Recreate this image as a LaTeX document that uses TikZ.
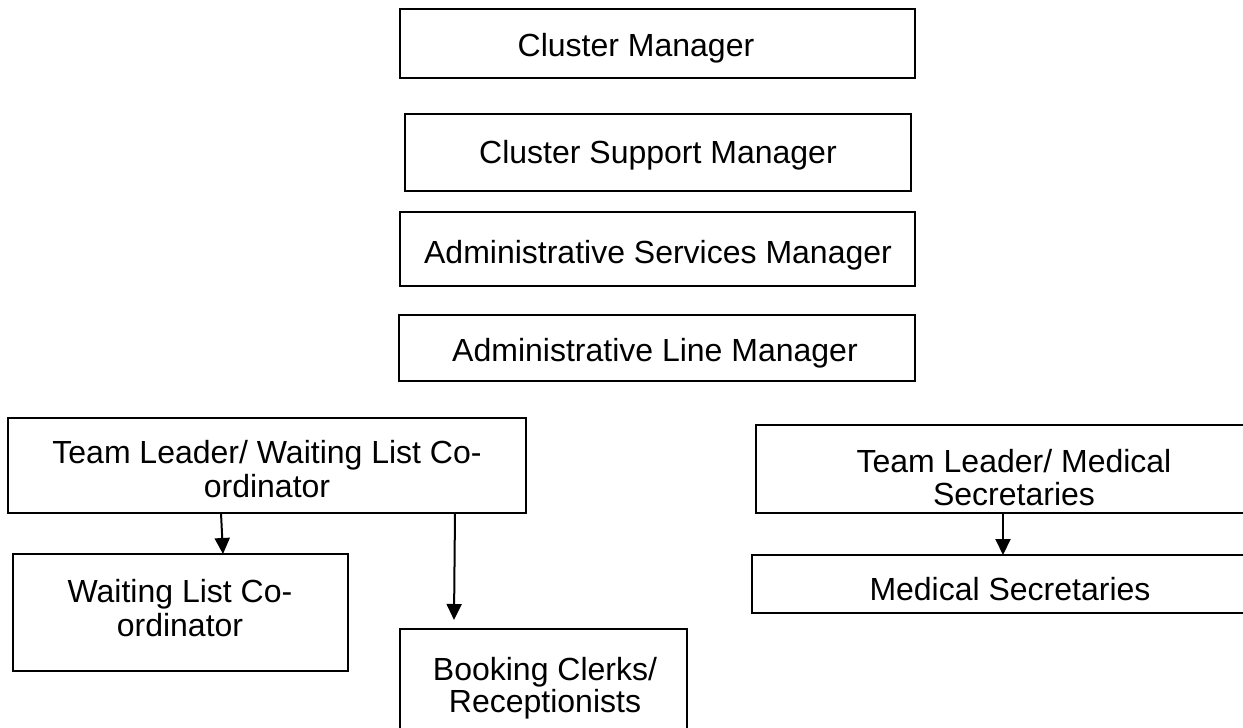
\documentclass[tikz,border=0pt]{standalone}
\usepackage{fontspec}
\setmainfont{Liberation Sans}
\usetikzlibrary{arrows.meta}
\begin{document}
\begin{tikzpicture}[x=1pt,y=-1pt,
  box/.style={draw=black, line width=2pt, rectangle, inner sep=0pt, outer sep=0pt},
  lbl/.style={font=\fontsize{32}{34}\selectfont, inner sep=0pt, anchor=base, align=center},
  conn/.style={draw=black, line width=2pt, -{Triangle[length=16pt,width=15pt]}}]
\useasboundingbox (0,0) rectangle (1243,728);
\fill[white] (0,0) rectangle (1243,728);

% boxes
\node[box, minimum width=515pt, minimum height=69pt] (cm)  at (657.5,43.5) {};
\node[box, minimum width=506pt, minimum height=77pt] (csm) at (658,152.5) {};
\node[box, minimum width=515pt, minimum height=74pt] (asm) at (657.5,249) {};
\node[box, minimum width=516pt, minimum height=66pt] (alm) at (657,348) {};
\node[box, minimum width=518pt, minimum height=95pt] (tl)  at (267,465.5) {};
\node[box, minimum width=519pt, minimum height=88pt] (tlm) at (1015.5,469) {};
\node[box, minimum width=335pt, minimum height=117pt] (wl) at (180.5,612.5) {};
\node[box, minimum width=287pt, minimum height=141pt] (bk) at (543.5,699.5) {};
\node[box, minimum width=523pt, minimum height=58pt] (ms)  at (1013.5,584) {};

% labels (anchored at the baseline of the last line)
\node[lbl] (cmt)  at (636,56)  {Cluster Manager};
\node[lbl] (csmt) at (658,163) {Cluster Support Manager};
\node[lbl] (asmt) at (658,263) {Administrative Services Manager};
\node[lbl] (almt) at (655,361) {Administrative Line Manager};
\node[lbl] (tlt)  at (267,497) {Team Leader/ Waiting List Co-\\ordinator};
\node[lbl] (wlt)  at (180,636) {Waiting List Co-\\ordinator};
\node[lbl, font=\fontsize{32}{32}\selectfont] (bkt) at (545,712) {Booking Clerks/\\Receptionists};
\node[lbl, font=\fontsize{32}{33}\selectfont] (tlmt) at (1014,505) {Team Leader/ Medical\\Secretaries};
\node[lbl] (mst)  at (1010,600) {Medical Secretaries};

% reporting lines
\draw[conn] ([xshift=-46pt]tl.south) -- ([xshift=42.5pt]wl.north);
\draw[conn] ([xshift=188pt]tl.south) -- ([xshift=-89.5pt,yshift=9pt]bk.north);
\draw[conn] ([xshift=-12.5pt]tlm.south) -- ([xshift=-10.5pt]ms.north);
\end{tikzpicture}
\end{document}
